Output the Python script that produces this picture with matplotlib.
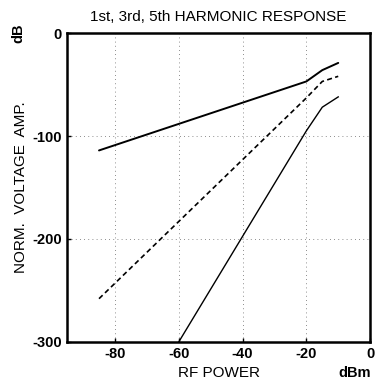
import matplotlib
matplotlib.use("Agg")
import matplotlib.pyplot as plt

plt.rcParams['font.family'] = ['Liberation Sans', 'DejaVu Sans']

# Data
x_first = [-85, -20, -15, -10]
y_first = [-114, -47, -36, -29]
x_third = [-85, -20, -15, -10]
y_third = [-258, -63, -47, -42]
x_fifth = [-60, -20, -15, -10]
y_fifth = [-300, -95, -72, -62]

xticks = [-80, -60, -40, -20, 0]
yticks = [0, -100, -200, -300]

fig = plt.figure(figsize=(3.75, 3.89), dpi=100)
ax = fig.add_axes([0.179, 0.121, 0.808, 0.794])

ax.plot(x_first, y_first, color='black', lw=1.4, solid_capstyle='round')
ax.plot(x_third, y_third, color='black', lw=1.2, ls=(0, (3, 2)))
ax.plot(x_fifth, y_fifth, color='black', lw=1.0)

ax.set_xlim(-95, 0)
ax.set_ylim(-300, 0)
ax.set_xticks(xticks)
ax.set_xticklabels([str(v) for v in xticks])
ax.set_yticks(yticks)
ax.set_yticklabels([str(v) for v in yticks])

for v in [-80, -60, -40, -20]:
    ax.axvline(v, color='black', lw=0.6, ls=(0, (1, 4)), alpha=0.6)
for v in [-100, -200]:
    ax.axhline(v, color='black', lw=0.6, ls=(0, (1, 4)), alpha=0.6)

for s in ax.spines.values():
    s.set_linewidth(1.8)

ax.tick_params(axis='both', direction='in', length=3, width=1, labelsize=10.5, pad=4)
for lbl in ax.get_xticklabels() + ax.get_yticklabels():
    lbl.set_fontweight('bold')

ax.set_title('1st, 3rd, 5th HARMONIC RESPONSE', fontsize=11, pad=9)
ax.set_xlabel('RF POWER', fontsize=11, labelpad=3)
ax.set_ylabel('NORM.  VOLTAGE  AMP.', fontsize=11, labelpad=3)
fig.text(0.048, 0.915, 'dB', rotation=90, fontsize=10.5, fontweight='bold', ha='center', va='center')
fig.text(0.945, 0.04, 'dBm', fontsize=10.5, fontweight='bold', ha='center', va='center')

fig.savefig('out.png', dpi=100)
